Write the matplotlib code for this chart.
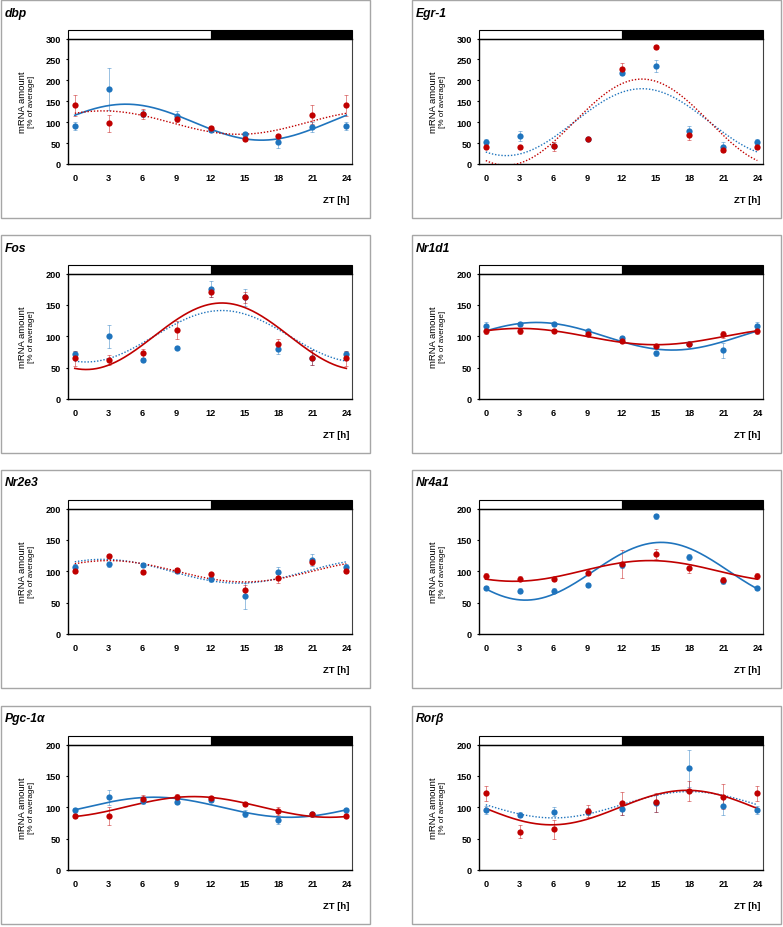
import numpy as np
import matplotlib.pyplot as plt
import matplotlib.transforms as mtransforms
from matplotlib.patches import Rectangle

plt.rcParams['font.family'] = ['Liberation Sans', 'DejaVu Sans']

zt = [0, 3, 6, 9, 12, 15, 18, 21, 24]

# mean values (% of average) and error bars
dbp_blue = [91, 180, 120, 114, 81, 71, 53, 88, 91]
dbp_blue_err = [10, 50, 8, 12, 5, 6, 15, 12, 10]
dbp_red = [140, 97, 120, 108, 86, 59, 66, 118, 140]
dbp_red_err = [25, 20, 12, 8, 5, 5, 6, 22, 25]

egr1_blue = [53, 68, 44, 60, 217, 234, 80, 40, 53]
egr1_blue_err = [6, 12, 5, 4, 4, 15, 10, 12, 6]
egr1_red = [40, 40, 42, 60, 228, 279, 70, 33, 40]
egr1_red_err = [5, 4, 10, 4, 13, 5, 12, 5, 5]

fos_blue = [72, 100, 62, 82, 175, 162, 80, 66, 72]
fos_blue_err = [5, 18, 3, 3, 13, 14, 9, 12, 5]
fos_red = [65, 62, 73, 110, 171, 162, 88, 66, 65]
fos_red_err = [12, 8, 7, 15, 8, 9, 7, 12, 12]

nr1d1_blue = [117, 120, 119, 108, 97, 73, 87, 78, 117]
nr1d1_blue_err = [5, 3, 3, 3, 3, 4, 3, 12, 5]
nr1d1_red = [109, 108, 109, 103, 92, 85, 87, 103, 109]
nr1d1_red_err = [5, 4, 3, 3, 3, 3, 3, 5, 5]

nr2e3_blue = [107, 111, 110, 101, 87, 61, 99, 118, 107]
nr2e3_blue_err = [4, 4, 3, 4, 4, 21, 7, 10, 4]
nr2e3_red = [100, 125, 99, 102, 95, 70, 89, 114, 100]
nr2e3_red_err = [3, 3, 3, 3, 3, 8, 8, 4, 3]

nr4a1_blue = [73, 69, 69, 78, 110, 188, 123, 84, 73]
nr4a1_blue_err = [3, 4, 4, 3, 5, 4, 5, 5, 3]
nr4a1_red = [93, 88, 87, 98, 112, 128, 105, 86, 93]
nr4a1_red_err = [5, 4, 3, 4, 22, 8, 7, 5, 5]

pgc_blue = [95, 116, 110, 108, 112, 90, 79, 90, 95]
pgc_blue_err = [4, 12, 5, 3, 3, 6, 5, 3, 4]
pgc_red = [86, 86, 113, 116, 114, 105, 94, 89, 86]
pgc_red_err = [3, 14, 7, 5, 3, 3, 7, 4, 3]

rorb_blue = [96, 88, 93, 93, 98, 106, 162, 102, 96]
rorb_blue_err = [6, 4, 7, 6, 10, 14, 30, 15, 6]
rorb_red = [122, 61, 65, 94, 106, 108, 126, 117, 122]
rorb_red_err = [12, 10, 15, 10, 19, 15, 16, 20, 12]

# cosinor fits: mesor, amplitude, acrophase [h]
dbp_fit_blue, dbp_fit_red = (100, 43, 4.5), (99, 28, 2.5)
egr1_fit_blue, egr1_fit_red = (100, 80, 13.8), (100, 103, 13.8)
fos_fit_blue, fos_fit_red = (100, 41, 13), (100, 53, 13)
nr1d1_fit_blue, nr1d1_fit_red = (100, 22, 4.5), (99.5, 13, 3)
nr2e3_fit_blue, nr2e3_fit_red = (100, 19, 2.5), (100, 17, 3)
nr4a1_fit_blue, nr4a1_fit_red = (100, 46, 15.5), (100.5, 16.5, 14.5)
pgc_fit_blue, pgc_fit_red = (100, 16, 7), (100.5, 16.5, 10.5)
rorb_fit_blue, rorb_fit_red = (104, 21, 18), (99.5, 27.5, 17.8)

panels = [
    ('dbp', 300, dbp_blue, dbp_blue_err, dbp_red, dbp_red_err, dbp_fit_blue, dbp_fit_red, '-', ':'),
    ('Egr-1', 300, egr1_blue, egr1_blue_err, egr1_red, egr1_red_err, egr1_fit_blue, egr1_fit_red, ':', ':'),
    ('Fos', 200, fos_blue, fos_blue_err, fos_red, fos_red_err, fos_fit_blue, fos_fit_red, ':', '-'),
    ('Nr1d1', 200, nr1d1_blue, nr1d1_blue_err, nr1d1_red, nr1d1_red_err, nr1d1_fit_blue, nr1d1_fit_red, '-', '-'),
    ('Nr2e3', 200, nr2e3_blue, nr2e3_blue_err, nr2e3_red, nr2e3_red_err, nr2e3_fit_blue, nr2e3_fit_red, ':', ':'),
    ('Nr4a1', 200, nr4a1_blue, nr4a1_blue_err, nr4a1_red, nr4a1_red_err, nr4a1_fit_blue, nr4a1_fit_red, '-', '-'),
    ('Pgc-1α', 200, pgc_blue, pgc_blue_err, pgc_red, pgc_red_err, pgc_fit_blue, pgc_fit_red, '-', '-'),
    ('Rorβ', 200, rorb_blue, rorb_blue_err, rorb_red, rorb_red_err, rorb_fit_blue, rorb_fit_red, ':', '-'),
]

BLUE = '#1f74bd'
RED = '#c00000'
W, H = 783, 928
XLIM = (-0.6, 24.5)

fig = plt.figure(figsize=(W / 100, H / 100), dpi=100)


def fig_rect(x, y, w, h):
    # pixel box measured from the top left -> figure fraction
    return [x / W, 1 - (y + h) / H, w / W, h / H]


col_x = [1, 412]
row_y = [1, 236, 471, 707]
t = np.linspace(0, 24, 300)

for i, (name, ymax, b, be, r, re, fb, fr, lsb, lsr) in enumerate(panels):
    bx = col_x[i % 2]
    by = row_y[i // 2]

    box = Rectangle((bx / W, 1 - (by + 218) / H), 369 / W, 218 / H, transform=fig.transFigure,
                    fill=False, edgecolor='#a6a6a6', lw=1)
    fig.add_artist(box)
    fig.text((bx + 4) / W, 1 - (by + 12.5) / H, name, fontsize=8.7, fontweight='bold',
             fontstyle='italic', va='center', ha='left')

    ax = fig.add_axes(fig_rect(bx + 67, by + 38.5, 284, 125.5))
    ax.set_xlim(XLIM)
    ax.set_ylim(0, ymax)
    ax.set_xticks(zt)
    ax.set_yticks(np.arange(0, ymax + 1, 50))
    for lab in ax.get_xticklabels() + ax.get_yticklabels():
        lab.set_fontweight('bold')
        lab.set_fontsize(6.6)
    ax.tick_params(axis='x', length=0, pad=6.5)
    ax.tick_params(axis='y', length=1.8, width=0.8, pad=3.5)
    for s in ['left', 'bottom', 'top']:
        ax.spines[s].set_linewidth(1.0)
        ax.spines[s].set_color('black')
    ax.spines['right'].set_linewidth(0.8)
    ax.spines['right'].set_color('#404040')

    # light / dark bar
    trans = mtransforms.blended_transform_factory(ax.transData, ax.transAxes)
    bh = 8.5 / 125.5
    ax.add_patch(Rectangle((XLIM[0], 1), 12 - XLIM[0], bh, transform=trans, facecolor='white',
                           edgecolor='black', lw=0.8, clip_on=False))
    ax.add_patch(Rectangle((12, 1), XLIM[1] - 12, bh, transform=trans, facecolor='black',
                           edgecolor='black', lw=0.8, clip_on=False))

    # fitted curves
    for (m, a, p), ls, c in [(fb, lsb, BLUE), (fr, lsr, RED)]:
        y = m + a * np.cos(2 * np.pi * (t - p) / 24)
        if ls == '-':
            ax.plot(t, y, '-', color=c, lw=1.2, zorder=3)
        else:
            ax.plot(t, y, color=c, lw=1.0, linestyle=(0, (1, 1.3)), zorder=3)

    for vals, err, c in [(b, be, BLUE), (r, re, RED)]:
        ax.errorbar(zt, vals, yerr=err, fmt='none', ecolor=c, alpha=0.45, elinewidth=0.7,
                    capsize=1.5, capthick=0.7, zorder=2)
        ax.plot(zt, vals, 'o', color=c, ms=4.5, mec='none', zorder=4)

    ax.text(-0.16, 0.5, 'mRNA amount', rotation=90, transform=ax.transAxes, ha='center',
            va='center', fontsize=6.8)
    ax.text(-0.128, 0.5, '[% of average]', rotation=90, transform=ax.transAxes, ha='center',
            va='center', fontsize=5.8)
    ax.text(0.99, -0.285, 'ZT [h]', transform=ax.transAxes, ha='right', va='center',
            fontsize=6.8, fontweight='bold')

fig.savefig('out.png', dpi=100)
